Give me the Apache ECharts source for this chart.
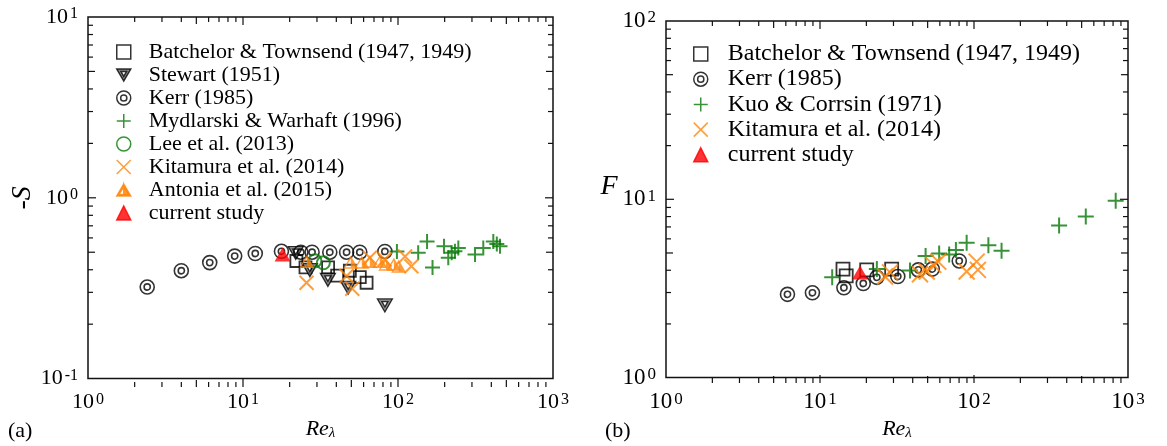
<!DOCTYPE html>
<html>
<head>
<meta charset="utf-8">
<script src="https://cdn.jsdelivr.net/npm/echarts@6/dist/echarts.min.js"></script>
<style>
html, body { margin: 0; padding: 0; background: #fff; }
#chart { width: 1167px; height: 446px; }
</style>
</head>
<body>
<div id="chart"></div>
<script>
// ---- data: [Re_lambda, value] ----
// (a) skewness -S
const batchelorS = [[22.1, 0.447], [25.3, 0.412], [35.4, 0.412], [40.5, 0.371], [48.9, 0.395], [56.7, 0.364], [62.7, 0.339]];
const stewartS = [[21.9, 0.495], [27.0, 0.398], [35.3, 0.352], [47.7, 0.318], [82.3, 0.254]];
const kerrS = [[2.41, 0.321], [4.0, 0.395], [6.1, 0.438], [8.84, 0.476], [12.0, 0.492], [17.7, 0.506], [23.6, 0.50], [27.9, 0.50], [36.3, 0.50], [46.6, 0.50], [56.7, 0.50], [82.3, 0.505]];
const mydlarskiS = [[98.4, 0.504], [135, 0.496], [154, 0.573], [167, 0.412], [198, 0.539], [211, 0.466], [222, 0.496], [233, 0.506], [245, 0.528], [314, 0.486], [355, 0.528], [412, 0.573], [434, 0.555], [455, 0.539]];
const leeS = [[29.1, 0.448], [33.0, 0.437]];
const kitamuraS = [[25.7, 0.339], [46.6, 0.369], [50.7, 0.314], [65.8, 0.466], [82, 0.456], [111, 0.474], [122, 0.418]];
const antoniaS = [[25.8, 0.445], [49.6, 0.440], [58.4, 0.440], [65.8, 0.445], [76.3, 0.445], [83.5, 0.429], [94.1, 0.429], [101, 0.418]];
const currentS = [[18.0, 0.486]];

// (b) flatness F
const batchelorF = [[14.1, 4.06], [14.8, 3.72], [20.1, 4.02], [29.2, 4.06]];
const kerrF = [[6.15, 2.93], [8.93, 2.99], [14.3, 3.19], [19.1, 3.37], [23.4, 3.65], [32.0, 3.69], [43.5, 4.02], [53.6, 4.06], [80.2, 4.51]];
const kuoF = [[12.0, 3.65], [23.4, 4.06], [38.4, 3.99], [48.5, 4.81], [59.4, 4.97], [69.0, 4.91], [76.3, 5.19], [89.6, 5.71], [124, 5.53], [151, 5.14], [357, 7.13], [532, 8.0], [832, 9.8]];
const kitamuraF = [[26.4, 3.69], [28.5, 3.89], [44.6, 3.80], [49.3, 3.94], [54.4, 4.29], [58.6, 4.47], [89.6, 3.94], [104, 4.47], [106, 4.02]];
const currentF = [[18.2, 3.89]];

// axis ranges (decades)
const xRange = [1, 1000];
const yRangeS = [0.1, 10];
const yRangeF = [1, 100];

const namesS = ['Batchelor & Townsend (1947, 1949)', 'Stewart (1951)', 'Kerr (1985)', 'Mydlarski & Warhaft (1996)', 'Lee et al. (2013)', 'Kitamura et al. (2014)', 'Antonia et al. (2015)', 'current study'];
const namesF = ['Batchelor & Townsend (1947, 1949)', 'Kerr (1985)', 'Kuo & Corrsin (1971)', 'Kitamura et al. (2014)', 'current study'];

const SERIF = "'Liberation Serif', 'Times New Roman', serif";
const GREEN = '#067806';
const ORANGE = '#ff840a';

// marker shapes
const P_KERR = 'path://M19 10A9 9 0 1 1 1 10A9 9 0 1 1 19 10ZM14 10A4 4 0 1 1 6 10A4 4 0 1 1 14 10Z';
const P_STEWART = 'path://M0 0L20 0L10 17ZM6 3.5L10 10.5L14 3.5Z';
const P_ANTONIA = 'path://M10 0L20 17L0 17ZM10 4L3 15L17 15ZM10 0L20 17L10 17Z';
const P_PLUS = 'path://M10 0L10 20M0 10L20 10';
const P_CROSS = 'path://M0 0L20 20M20 0L0 20';

const CLEAR = 'rgba(0,0,0,0)';
const styles = {
  batchelor: { symbol: 'rect', itemStyle: { color: CLEAR, borderColor: '#000', borderWidth: 1.8 } },
  stewart: { symbol: P_STEWART, itemStyle: { color: '#6e6e6e', borderColor: '#000', borderWidth: 1.3 } },
  kerr: { symbol: P_KERR, itemStyle: { color: CLEAR, borderColor: '#000', borderWidth: 1.6 } },
  plus: { symbol: P_PLUS, itemStyle: { color: CLEAR, borderColor: GREEN, borderWidth: 2 } },
  lee: { symbol: 'circle', itemStyle: { color: CLEAR, borderColor: GREEN, borderWidth: 2 } },
  cross: { symbol: P_CROSS, itemStyle: { color: CLEAR, borderColor: ORANGE, borderWidth: 2 } },
  antonia: { symbol: P_ANTONIA, itemStyle: { color: ORANGE, borderColor: ORANGE, borderWidth: 0 } },
  current: { symbol: 'triangle', itemStyle: { color: '#ff0000', borderColor: '#ff0000', borderWidth: 0 } }
};

function sc(name, data, g, st, size) {
  return {
    type: 'scatter', name: name, data: data,
    xAxisIndex: g, yAxisIndex: g,
    symbol: st.symbol, symbolSize: size, itemStyle: st.itemStyle,
    emphasis: { disabled: true }, silent: true
  };
}

function powLabel(v) {
  const e = Math.round(Math.log10(v));
  return '{b|10}{s|' + e + '}';
}

function labelRich(fs) {
  return {
    b: { fontFamily: SERIF, fontSize: fs, color: '#000', lineHeight: fs },
    s: { fontFamily: SERIF, fontSize: Math.round(fs * 0.74), color: '#000', verticalAlign: 'top', padding: [0, 0, 6, 2] }
  };
}

function xAxisCfg(g, fs) {
  return {
    type: 'log', logBase: 10, gridIndex: g, min: xRange[0], max: xRange[1],
    axisLine: { show: false }, axisTick: { show: false }, splitLine: { show: false },
    axisLabel: { formatter: powLabel, margin: 13, showMinLabel: true, showMaxLabel: true, rich: labelRich(fs) },
    name: '{i|Re}{l|λ}', nameLocation: 'middle', nameGap: 35,
    nameTextStyle: {
      rich: {
        i: { fontFamily: SERIF, fontStyle: 'italic', fontSize: 22, color: '#000' },
        l: { fontFamily: SERIF, fontStyle: 'italic', fontSize: 15, color: '#000', verticalAlign: 'bottom', padding: [8, 0, 0, 0] }
      }
    }
  };
}

function yAxisCfg(g, range, fs, name, rot, gap, pad) {
  return {
    type: 'log', logBase: 10, gridIndex: g, min: range[0], max: range[1],
    axisLine: { show: false }, axisTick: { show: false }, splitLine: { show: false },
    axisLabel: { formatter: powLabel, margin: 10, showMinLabel: true, showMaxLabel: true, rich: labelRich(fs) },
    name: name, nameLocation: 'middle', nameGap: gap, nameRotate: rot,
    nameTextStyle: {
      padding: pad,
      rich: {
        n: { fontFamily: SERIF, fontSize: 28, color: '#000' },
        i: { fontFamily: SERIF, fontStyle: 'italic', fontSize: 28, color: '#000' }
      }
    }
  };
}

function legendCfg(names, left, top, fs, gap, pad) {
  return {
    orient: 'vertical', left: left, top: top, data: names, padding: 0,
    itemWidth: 14, itemHeight: 14, itemGap: gap, selectedMode: false,
    itemStyle: { borderWidth: 1.5 },
    textStyle: { fontFamily: SERIF, fontSize: fs, lineHeight: fs, color: '#000', padding: [0, 0, 0, pad] }
  };
}

const gridS = { left: 88, top: 17, width: 465, height: 370 };
const gridF = { left: 666, top: 21, width: 462, height: 362 };

const chart = echarts.init(document.getElementById('chart'), null, { renderer: 'canvas' });

const option = {
  animation: false,
  backgroundColor: '#fff',
  grid: [
    Object.assign({ show: true, borderColor: '#111', borderWidth: 1.5, backgroundColor: 'transparent' }, gridS),
    Object.assign({ show: true, borderColor: '#111', borderWidth: 1.5, backgroundColor: 'transparent' }, gridF)
  ],
  xAxis: [xAxisCfg(0, 22), xAxisCfg(1, 23)],
  yAxis: [
    yAxisCfg(0, yRangeS, 22, '{n|-}{i|S}', 90, 46, 0),
    yAxisCfg(1, yRangeF, 23, '{i|F}', 0, 36, [0, 0, 26, 0])
  ],
  legend: [
    legendCfg(namesS, 116, 41, 22, 1, 13),
    legendCfg(namesF, 693, 42, 24, 1.2, 15)
  ],
  series: [
    sc(namesS[0], batchelorS, 0, styles.batchelor, 12),
    sc(namesS[1], stewartS, 0, styles.stewart, [15, 13]),
    sc(namesS[2], kerrS, 0, styles.kerr, 14),
    sc(namesS[3], mydlarskiS, 0, styles.plus, 15),
    sc(namesS[4], leeS, 0, styles.lee, 13),
    sc(namesS[5], kitamuraS, 0, styles.cross, 14),
    sc(namesS[6], antoniaS, 0, styles.antonia, [15, 13]),
    sc(namesS[7], currentS, 0, styles.current, [16, 14]),

    sc(namesF[0], batchelorF, 1, styles.batchelor, 13),
    sc(namesF[1], kerrF, 1, styles.kerr, 14),
    sc(namesF[2], kuoF, 1, styles.plus, 16),
    sc(namesF[3], kitamuraF, 1, styles.cross, 16),
    sc(namesF[4], currentF, 1, styles.current, [16, 14])
  ]
};

chart.setOption(option);

// pixel of a log value through the grid's own coordinate system
function pt(g, x, y) {
  return chart.convertToPixel({ gridIndex: g }, [x, y]);
}

// minor / major log ticks on all four sides (thin rects), plus panel tags
function tickGraphics() {
  const els = [];
  const W = 1.2;
  const panels = [[gridS, yRangeS], [gridF, yRangeF]];
  panels.forEach(function (pn, g) {
    const box = pn[0], yr = pn[1];
    const x0 = box.left, x1 = box.left + box.width;
    const yt = box.top, yb = box.top + box.height;
    const mid = Math.sqrt(yr[0] * yr[1]);
    const len = function (m) { return m === 1 ? 8 : (m === 5 ? 7 : 5); };
    const bar = function (x, y, w, h) {
      els.push({ type: 'rect', shape: { x: x, y: y, width: w, height: h }, style: { fill: '#111' } });
    };
    for (let e = 0; e < 3; e++) {
      const dec = Math.pow(10, e);
      for (let m = 1; m <= 9; m++) {
        if (m === 1 && e === 0) continue;
        const x = pt(g, m * dec, mid)[0];
        bar(x - W / 2, yb - len(m), W, len(m));
        bar(x - W / 2, yt, W, len(m));
      }
    }
    const e0 = Math.round(Math.log10(yr[0]));
    for (let e = e0; e < e0 + 2; e++) {
      const dec = Math.pow(10, e);
      for (let m = 1; m <= 9; m++) {
        if (m === 1 && e === e0) continue;
        const y = pt(g, 10, m * dec)[1];
        bar(x0, y - W / 2, len(m), W);
        bar(x1 - len(m), y - W / 2, len(m), W);
      }
    }
  });
  els.push({ type: 'text', left: 8, top: 420, style: { text: '(a)', fontFamily: SERIF, fontSize: 22, fill: '#000' } });
  els.push({ type: 'text', left: 605, top: 420, style: { text: '(b)', fontFamily: SERIF, fontSize: 22, fill: '#000' } });
  return els;
}

chart.setOption({ graphic: tickGraphics() });
</script>
</body>
</html>
